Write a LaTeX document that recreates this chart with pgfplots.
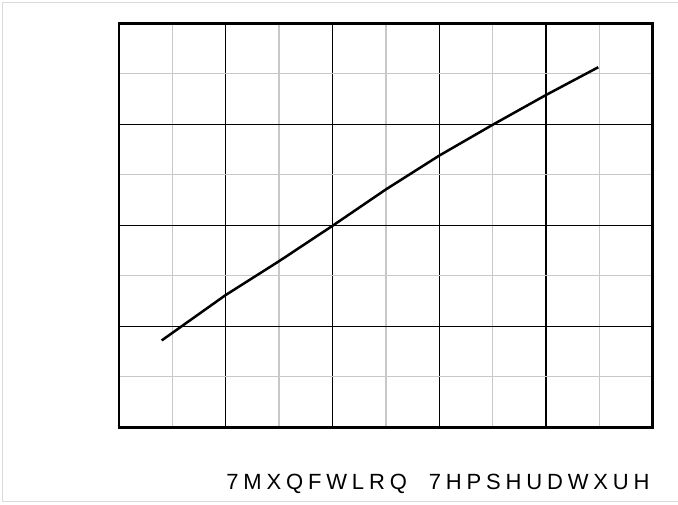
\documentclass[border=0pt]{standalone}
\usepackage{pgfplots}
\pgfplotsset{compat=1.18}
\usepackage{fontspec}
\setmainfont{Liberation Sans}
\newfontfamily\labelfont[LetterSpace=22]{Liberation Sans}
\definecolor{gridgray}{RGB}{200,200,200}
\definecolor{framegray}{RGB}{218,218,218}
\begin{document}
\begin{tikzpicture}[x=1pt,y=1pt]
\path[use as bounding box] (0,0) rectangle (678,504);
\draw[framegray, line width=1.2pt] (680,501.5) -- (2.5,501.5) -- (2.5,2.5) -- (680,2.5);
\begin{axis}[
  at={(119pt,76.7pt)}, anchor=south west,
  scale only axis, width=533.7pt, height=404pt,
  xmin=0, xmax=10, ymin=0, ymax=8,
  xtick={0,2,4,6,8,10}, minor xtick={1,3,5,7,9},
  ytick={0,2,4,6,8}, minor ytick={1,3,5,7},
  xticklabels={}, yticklabels={},
  major tick length=0pt, minor tick length=0pt,
  grid=both,
  major grid style={black, line width=1.3pt},
  minor grid style={gridgray, line width=1.3pt},
  axis line style={black, line width=2.6pt},
]
\addplot[black, line width=2.5pt, no markers] coordinates {
(0.80,1.72) (2,2.62) (3,3.29) (4,3.99) (5,4.71) (6,5.38) (7,5.99) (8,6.58) (8.98,7.13)
};
\end{axis}
\node[anchor=base, inner sep=0pt, font=\labelfont\fontsize{22}{26}\selectfont] at (438,15) {7MXQFWLRQ\ \ 7HPSHUDWXUH};
\end{tikzpicture}
\end{document}
